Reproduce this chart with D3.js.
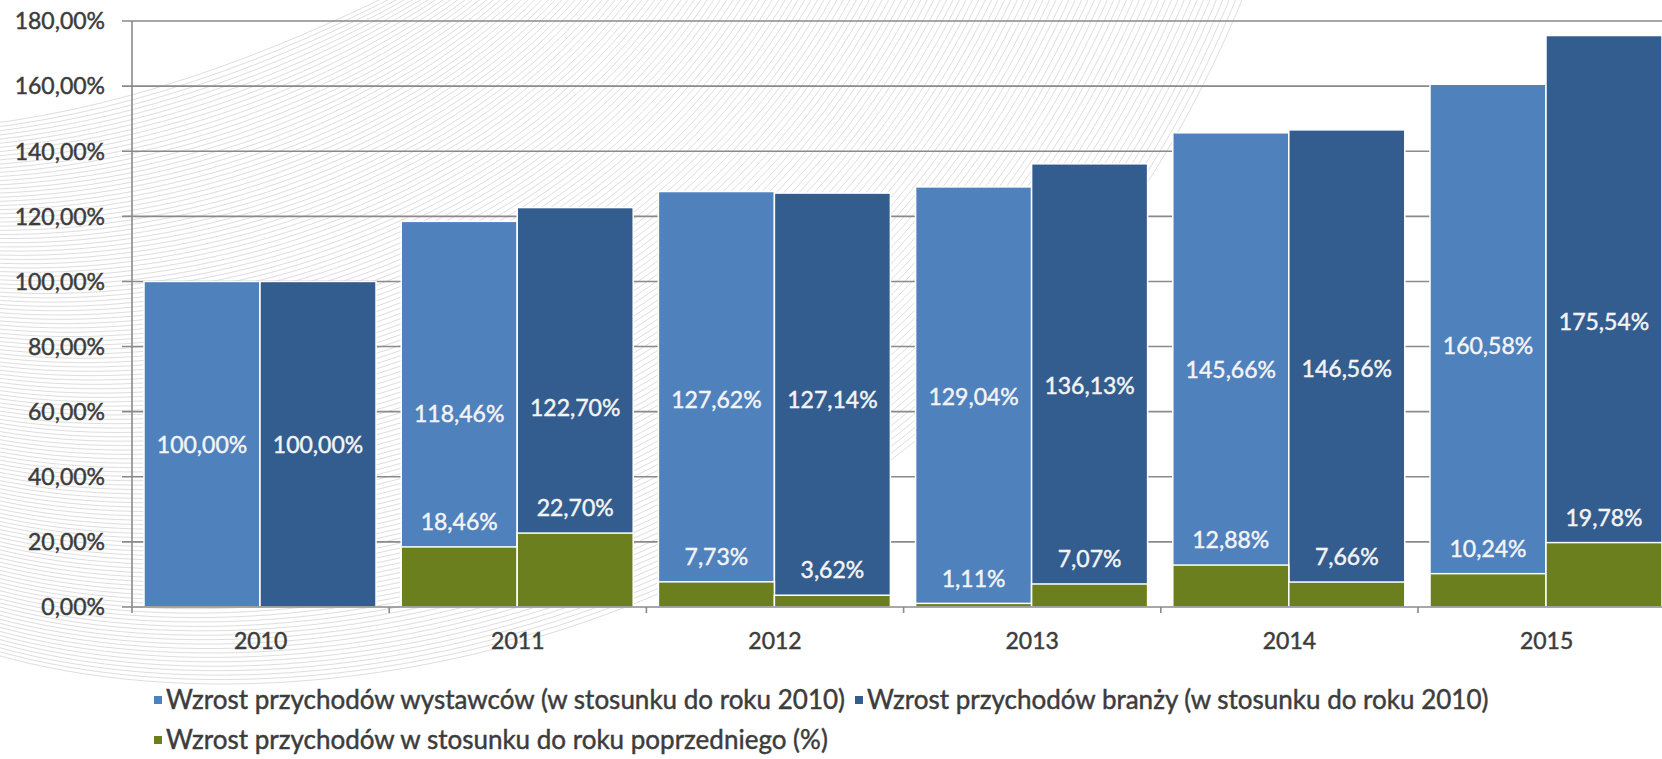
<!DOCTYPE html>
<html>
<head>
<meta charset="utf-8">
<script src="https://cdn.jsdelivr.net/npm/d3@7"></script>
<style>
  html, body { margin: 0; padding: 0; background: #fff; }
  svg { display: block; font-family: Lato, "Open Sans", sans-serif; }
</style>
</head>
<body>
<svg width="1662" height="759"></svg>
<script>
const width = 1662;
const height = 759;

// data
const years = ["2010", "2011", "2012", "2013", "2014", "2015"];
const exhibitorsVs2010 = [100.00, 118.46, 127.62, 129.04, 145.66, 160.58];
const industryVs2010 = [100.00, 122.70, 127.14, 136.13, 146.56, 175.54];
const exhibitorsYoY = [null, 18.46, 7.73, 1.11, 12.88, 10.24];
const industryYoY = [null, 22.70, 3.62, 7.07, 7.66, 19.78];
const yTicks = [0, 20, 40, 60, 80, 100, 120, 140, 160, 180];
const legendLabels = [
  "Wzrost przychodów wystawców (w stosunku do roku 2010)",
  "Wzrost przychodów branży (w stosunku do roku 2010)",
  "Wzrost przychodów w stosunku do roku poprzedniego (%)"
];

const colLight = "#4f81bd";
const colDark = "#345d8f";
const colGreen = "#6b7f1e";
const axisGrey = "#8a8a8a";
const textGrey = "#3c3c3c";
const labelWhite = "#f4f4f4";

const fmt = v => v.toFixed(2).replace(".", ",") + "%";

const svg = d3.select("svg");

// faint swoosh in the background
const bg = svg.append("g")
  .attr("fill", "none")
  .attr("stroke", "#dedede")
  .attr("stroke-width", 1);
const top0 = [[-20, 125], [150, 105], [300, 40], [420, -20]];
const low1 = [[-20, 650], [330, 760], [1000, 620], [1250, -20]];
d3.range(0, 1.0001, 1 / 130).forEach(t => {
  const p = top0.map((a, i) => [a[0] + (low1[i][0] - a[0]) * t, a[1] + (low1[i][1] - a[1]) * t]);
  bg.append("path")
    .attr("d", `M${p[0]}C${p[1]} ${p[2]} ${p[3]}`);
});

const plotLeft = 132;
const step = 257.2;

const x = d3.scaleBand()
  .domain(years)
  .range([plotLeft, plotLeft + step * years.length])
  .padding(0);

const xs = d3.scaleBand()
  .domain(["a", "b"])
  .range([12, 244])
  .padding(0);

const y = d3.scaleLinear()
  .domain([0, 180])
  .range([607, 21]);

// text helper: slight outline so the glyphs look as heavy as the original
function heavy(sel, color) {
  return sel
    .attr("fill", color)
    .attr("stroke", color)
    .attr("stroke-width", 0.45)
    .attr("paint-order", "stroke");
}

// gridlines + y ticks
svg.append("g")
  .selectAll("line")
  .data(yTicks.filter(d => d > 0))
  .join("line")
  .attr("x1", plotLeft - 10)
  .attr("x2", width)
  .attr("y1", d => y(d))
  .attr("y2", d => y(d))
  .attr("stroke", axisGrey)
  .attr("stroke-width", 1.6);

svg.append("g")
  .selectAll("text")
  .data(yTicks)
  .join("text")
  .attr("x", 105)
  .attr("y", d => y(d))
  .attr("dy", "0.36em")
  .attr("text-anchor", "end")
  .attr("font-size", 23)
  .call(heavy, textGrey)
  .text(d => fmt(d));

// bars
const rows = years.map((yr, i) => ({
  year: yr,
  bars: [
    { key: "a", base: exhibitorsVs2010[i], yoy: exhibitorsYoY[i], color: colLight },
    { key: "b", base: industryVs2010[i], yoy: industryYoY[i], color: colDark }
  ]
}));

const groups = svg.append("g")
  .selectAll("g")
  .data(rows)
  .join("g")
  .attr("transform", d => `translate(${x(d.year)},0)`);

groups.selectAll("rect.base")
  .data(d => d.bars)
  .join("rect")
  .attr("class", "base")
  .attr("x", d => xs(d.key))
  .attr("width", xs.bandwidth())
  .attr("y", d => y(d.base))
  .attr("height", d => y(0) - y(d.base))
  .attr("fill", d => d.color)
  .attr("stroke", "#fff")
  .attr("stroke-width", 1.5);

groups.selectAll("rect.yoy")
  .data(d => d.bars.filter(b => b.yoy != null))
  .join("rect")
  .attr("class", "yoy")
  .attr("x", d => xs(d.key))
  .attr("width", xs.bandwidth())
  .attr("y", d => y(d.yoy))
  .attr("height", d => y(0) - y(d.yoy))
  .attr("fill", colGreen)
  .attr("stroke", "#fff")
  .attr("stroke-width", 1.5);

// data labels
groups.selectAll("text.base")
  .data(d => d.bars)
  .join("text")
  .attr("class", "base")
  .attr("x", d => xs(d.key) + xs.bandwidth() / 2)
  .attr("y", d => y(d.base / 2))
  .attr("dy", "0.36em")
  .attr("text-anchor", "middle")
  .attr("font-size", 23)
  .call(heavy, labelWhite)
  .text(d => fmt(d.base));

groups.selectAll("text.yoy")
  .data(d => d.bars.filter(b => b.yoy != null))
  .join("text")
  .attr("class", "yoy")
  .attr("x", d => xs(d.key) + xs.bandwidth() / 2)
  .attr("y", d => y(d.yoy) - 25)
  .attr("dy", "0.36em")
  .attr("text-anchor", "middle")
  .attr("font-size", 23)
  .call(heavy, labelWhite)
  .text(d => fmt(d.yoy));

// axes lines
svg.append("line")
  .attr("x1", plotLeft).attr("x2", plotLeft)
  .attr("y1", y(180)).attr("y2", y(0) + 6)
  .attr("stroke", axisGrey).attr("stroke-width", 1.6);

svg.append("line")
  .attr("x1", plotLeft - 10).attr("x2", width)
  .attr("y1", y(0)).attr("y2", y(0))
  .attr("stroke", axisGrey).attr("stroke-width", 1.6);

svg.append("g")
  .selectAll("line")
  .data(years.slice(1))
  .join("line")
  .attr("x1", d => x(d)).attr("x2", d => x(d))
  .attr("y1", y(0)).attr("y2", y(0) + 6)
  .attr("stroke", axisGrey).attr("stroke-width", 1.6);

svg.append("g")
  .selectAll("text")
  .data(years)
  .join("text")
  .attr("x", d => x(d) + x.bandwidth() / 2)
  .attr("y", 641)
  .attr("dy", "0.36em")
  .attr("text-anchor", "middle")
  .attr("font-size", 23)
  .call(heavy, textGrey)
  .text(d => d);

// legend
const legendItems = [
  { label: legendLabels[0], color: colLight, row: 0 },
  { label: legendLabels[1], color: colDark, row: 0 },
  { label: legendLabels[2], color: colGreen, row: 1 }
];
const legend = svg.append("g");
const rowY = [700, 740];
let cursor = [154, 154];
legendItems.forEach(it => {
  const cx = cursor[it.row];
  legend.append("rect")
    .attr("x", cx).attr("y", rowY[it.row] - 4)
    .attr("width", 8).attr("height", 8)
    .attr("fill", it.color);
  const t = legend.append("text")
    .attr("x", cx + 12)
    .attr("y", rowY[it.row])
    .attr("dy", "0.36em")
    .attr("font-size", 26)
    .call(heavy, textGrey)
    .text(it.label);
  cursor[it.row] = cx + 12 + t.node().getComputedTextLength() + 10;
});
</script>
</body>
</html>
